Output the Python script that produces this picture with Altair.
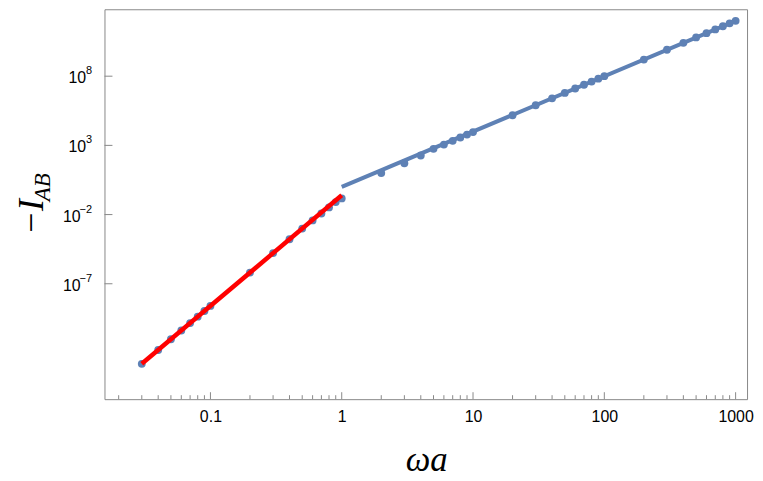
import altair as alt
import pandas as pd

# ---- data ----
omega_a = [0.03, 0.04, 0.05, 0.06, 0.07, 0.08, 0.09, 0.1,
           0.2, 0.3, 0.4, 0.5, 0.6, 0.7, 0.8, 0.9, 1,
           2, 3, 4, 5, 6, 7, 8, 9, 10,
           20, 30, 40, 50, 60, 70, 80, 90, 100,
           200, 300, 400, 500, 600, 700, 800, 900, 1000]
log10_minus_I = [-12.785, -11.785, -11.01, -10.377, -9.841, -9.377, -8.968, -8.602,
                 -6.194, -4.785, -3.785, -3.01, -2.42, -1.92, -1.48, -1.10, -0.83,
                 1.0, 1.71, 2.27, 2.75, 3.06, 3.33, 3.57, 3.78, 3.96,
                 5.18, 5.90, 6.40, 6.79, 7.11, 7.38, 7.61, 7.82, 8.0,
                 9.2, 9.91, 10.41, 10.8, 11.11, 11.38, 11.61, 11.82, 12.0]

small_fit_x = [0.03, 1]
small_fit_log10 = [-12.785, -0.602]
large_fit_x = [1, 1000]
large_fit_log10 = [0.0, 12.0]

x_major = [0.1, 1, 10, 100, 1000]
x_minor = [0.02, 0.03, 0.04, 0.05, 0.06, 0.07, 0.08, 0.09,
           0.2, 0.3, 0.4, 0.5, 0.6, 0.7, 0.8, 0.9,
           2, 3, 4, 5, 6, 7, 8, 9,
           20, 30, 40, 50, 60, 70, 80, 90,
           200, 300, 400, 500, 600, 700, 800, 900]
y_major_pos = [1e8, 1e3]
y_major_pos_exp = ["8", "3"]
y_major_neg = [1e-2, 1e-7]
y_major_neg_exp = ["\u22122", "\u22127"]

# ---- tables ----
pts = pd.DataFrame({"x": omega_a, "y": [10 ** v for v in log10_minus_I]})
red = pd.DataFrame({"x": small_fit_x, "y": [10 ** v for v in small_fit_log10]})
blue = pd.DataFrame({"x": large_fit_x, "y": [10 ** v for v in large_fit_log10]})
xmaj = pd.DataFrame({"v": x_major})
xmin = pd.DataFrame({"v": x_minor})
ypos = pd.DataFrame({"v": y_major_pos, "e": y_major_pos_exp})
yneg = pd.DataFrame({"v": y_major_neg, "e": y_major_neg_exp})
yall = pd.concat([ypos, yneg], ignore_index=True)
one = pd.DataFrame({"a": [0]})

W, H = 646, 392
FRAME = "#888888"
BLUE = "#5E81B5"
LABEL_FONT = "Liberation Sans"

xs = alt.Scale(type="log", domain=[10 ** -1.807, 10 ** 3.087], nice=False, zero=False)
ys = alt.Scale(type="log", domain=[10 ** -15.34, 10 ** 12.838], nice=False, zero=False)

xaxis = alt.Axis(values=x_major, ticks=False, domain=False, grid=False,
                 labelFont=LABEL_FONT, labelFontSize=16, labelColor="#000000",
                 labelPadding=9,
                 labelExpr="datum.value >= 1 ? format(datum.value, 'd') : format(datum.value, '.1f')")


def X(field):
    return alt.X(field, type="quantitative", scale=xs, axis=xaxis, title=None)


def Y(field):
    return alt.Y(field, type="quantitative", scale=ys, axis=None, title=None)


points = alt.Chart(pts).mark_circle(size=62, opacity=1, color=BLUE).encode(x=X("x"), y=Y("y"))
blue_line = alt.Chart(blue).mark_line(color=BLUE, strokeWidth=4).encode(x=X("x"), y=Y("y"))
red_line = alt.Chart(red).mark_line(color="#FF0000", strokeWidth=4.5).encode(x=X("x"), y=Y("y"))

xt_major = alt.Chart(xmaj).mark_rule(color=FRAME, strokeWidth=1).encode(
    x=X("v"), y=alt.value(H), y2=alt.value(H - 7))
xt_minor = alt.Chart(xmin).mark_rule(color=FRAME, strokeWidth=1).encode(
    x=X("v"), y=alt.value(H), y2=alt.value(H - 4))
yt_major = alt.Chart(yall).mark_rule(color=FRAME, strokeWidth=1).encode(
    y=Y("v"), x=alt.value(0), x2=alt.value(8))

# y tick labels: "10" plus superscript exponent
ylab_base_pos = alt.Chart(ypos).mark_text(text="10", font=LABEL_FONT, fontSize=16, color="#000000",
                                          align="right", baseline="middle", dy=2).encode(
    y=Y("v"), x=alt.value(-18.5))
ylab_base_neg = alt.Chart(yneg).mark_text(text="10", font=LABEL_FONT, fontSize=16, color="#000000",
                                          align="right", baseline="middle", dy=2).encode(
    y=Y("v"), x=alt.value(-24))
ylab_exp = alt.Chart(yall).mark_text(font=LABEL_FONT, fontSize=11, color="#000000",
                                     align="right", baseline="middle", dy=-5).encode(
    y=Y("v"), x=alt.value(-12.5), text="e:N")

x_title = alt.Chart(one).mark_text(text="ωa", font="Liberation Serif", fontStyle="italic",
                                   fontSize=35, color="#000000", align="center",
                                   baseline="alphabetic").encode(
    x=alt.value(W / 2 + 1), y=alt.value(H + 72))

y_title_main = alt.Chart(one).mark_text(text="\u2212I", font="Liberation Serif", fontStyle="italic",
                                        fontSize=36, color="#000000", angle=270, align="left",
                                        baseline="alphabetic").encode(
    x=alt.value(-62), y=alt.value(227))
y_title_sub = alt.Chart(one).mark_text(text="AB", font="Liberation Serif", fontStyle="italic",
                                       fontSize=23, color="#000000", angle=270, align="left",
                                       baseline="alphabetic").encode(
    x=alt.value(-55), y=alt.value(193))

chart = alt.layer(
    xt_minor, xt_major, yt_major, points, blue_line, red_line,
    ylab_base_pos, ylab_base_neg, ylab_exp,
    x_title, y_title_main, y_title_sub
).properties(
    width=W, height=H,
    autosize=alt.AutoSizeParams(type="none"),
    padding={"left": 97, "top": 0, "right": 8, "bottom": 80},
    background="white",
).configure_view(stroke=FRAME, strokeWidth=1)

chart.save("out.html", embed_options={"renderer": "svg", "actions": False})
